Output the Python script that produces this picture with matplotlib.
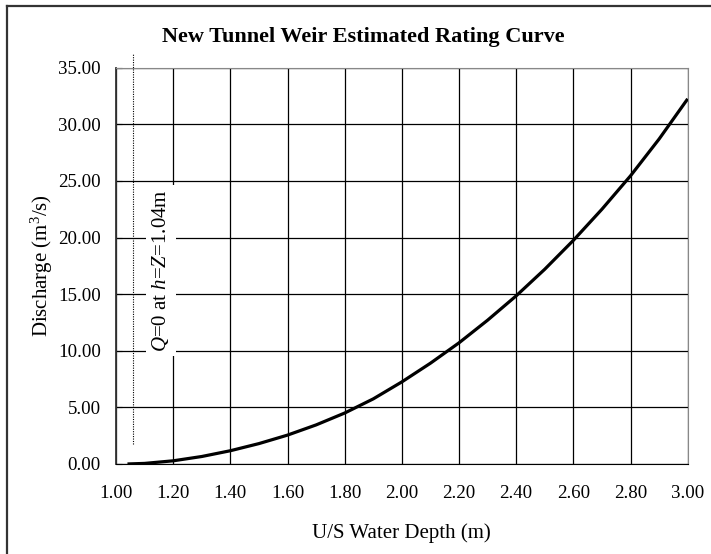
import matplotlib
matplotlib.use("Agg")
import matplotlib.pyplot as plt
from matplotlib.lines import Line2D

plt.rcParams["font.family"] = "Liberation Serif"
plt.rcParams["mathtext.fontset"] = "custom"
plt.rcParams["mathtext.rm"] = "Liberation Serif"
plt.rcParams["mathtext.it"] = "Liberation Serif:italic"

# Rating curve: upstream depth (m) vs discharge (m3/s)
depth = [1.04, 1.10, 1.20, 1.30, 1.40, 1.50, 1.60, 1.70, 1.80, 1.90, 2.00,
         2.10, 2.20, 2.30, 2.40, 2.50, 2.60, 2.70, 2.80, 2.90, 3.00]
discharge = [0.00, 0.05, 0.28, 0.66, 1.17, 1.80, 2.55, 3.45, 4.50, 5.75, 7.25,
             8.90, 10.70, 12.70, 14.85, 17.20, 19.75, 22.50, 25.45, 28.70, 32.25]

x_ticks = [1.0 + 0.2 * i for i in range(11)]
y_ticks = [5.0 * i for i in range(8)]

marker_x = 1.06
marker_y = [1.8, 36.2]

fig = plt.figure(figsize=(7.11, 5.54), dpi=100)
ax = fig.add_axes([0.1632, 0.1625, 0.804, 0.7153])

ax.plot(depth, discharge, color="black", lw=2.3, solid_joinstyle="round",
        solid_capstyle="butt", zorder=4)

# dotted reference line at the weir crest
ax.plot([marker_x, marker_x], marker_y, color="black", lw=0.8,
        linestyle=(0, (1, 1.2)), clip_on=False, zorder=3)

ax.text(1.157, 17.1, r"$Q$=0 at $h$=$Z$=1.04m", rotation=90, fontsize=15,
        ha="center", va="center", zorder=5,
        bbox=dict(facecolor="white", edgecolor="none", pad=3))

ax.set_xlim(1.0, 3.0)
ax.set_ylim(0, 35)
ax.set_xticks(x_ticks)
ax.set_yticks(y_ticks)
ax.set_xticklabels([f"{v:.2f}" for v in x_ticks])
ax.set_yticklabels([f"{v:.2f}" for v in y_ticks])
ax.tick_params(axis="x", length=0, pad=15, labelsize=13.6)
ax.tick_params(axis="y", length=4, direction="in", pad=11, labelsize=13.6)

ax.grid(True, color="black", lw=0.9)
ax.set_axisbelow(True)
for side in ["top", "right"]:
    ax.spines[side].set_color("#888888")
ax.spines["left"].set_color("#333333")
ax.spines["left"].set_linewidth(1.3)
ax.spines["bottom"].set_color("black")

ax.set_xlabel("U/S Water Depth (m)", fontsize=15)
ax.xaxis.set_label_coords(0.5, -0.15)
ax.set_ylabel(r"Discharge (m$^3$/s)", fontsize=15)
ax.yaxis.set_label_coords(-0.107, 0.5)

fig.text(0.511, 0.933, "New Tunnel Weir Estimated Rating Curve",
         fontsize=16, fontweight="bold", ha="center", va="center")

# outer frame (top and left edges)
fig.add_artist(Line2D([0.0103, 1.0], [0.9897, 0.9897], color="#333333", lw=1.6))
fig.add_artist(Line2D([0.0103, 0.0103], [0.0, 0.9897], color="#333333", lw=1.6))

fig.savefig("out.png", dpi=100)
